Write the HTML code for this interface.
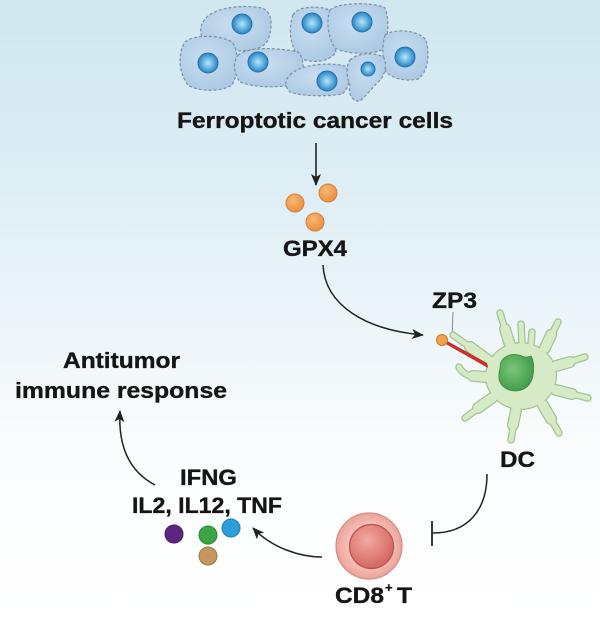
<!DOCTYPE html>
<html><head><meta charset="utf-8"><style>
html,body{margin:0;padding:0;background:#fff;}
svg{display:block;}
text{font-family:"Liberation Sans",Arial,sans-serif;font-weight:bold;fill:#151515;stroke:#151515;stroke-width:0.35;}
</style></head><body>
<svg width="600" height="617" viewBox="0 0 600 617" xmlns="http://www.w3.org/2000/svg">
<defs>
<linearGradient id="bg" x1="0" y1="0" x2="0" y2="1">
<stop offset="0" stop-color="#d0e7f0"/>
<stop offset="0.3" stop-color="#deeef5"/>
<stop offset="0.55" stop-color="#eef6fa"/>
<stop offset="0.72" stop-color="#fafcfd"/>
<stop offset="1" stop-color="#ffffff"/>
</linearGradient>
<radialGradient id="cellg" cx="0.45" cy="0.4" r="0.7">
<stop offset="0" stop-color="#c9def0"/>
<stop offset="1" stop-color="#a9c7e3"/>
</radialGradient>
<radialGradient id="nuc" cx="0.5" cy="0.5" r="0.5">
<stop offset="0" stop-color="#b8e4f6"/>
<stop offset="0.5" stop-color="#6cb8e4"/>
<stop offset="1" stop-color="#2a82c2"/>
</radialGradient>
<radialGradient id="org" cx="0.4" cy="0.35" r="0.65">
<stop offset="0" stop-color="#f7b872"/>
<stop offset="1" stop-color="#ec9040"/>
</radialGradient>
<radialGradient id="dcn" cx="0.4" cy="0.4" r="0.65">
<stop offset="0" stop-color="#7cc67c"/>
<stop offset="1" stop-color="#3f9a45"/>
</radialGradient>
<radialGradient id="tin" cx="0.4" cy="0.35" r="0.7">
<stop offset="0" stop-color="#f2aaa2"/>
<stop offset="1" stop-color="#d2625c"/>
</radialGradient>
<radialGradient id="tout" cx="0.5" cy="0.5" r="0.5">
<stop offset="0.6" stop-color="#f6c2ba"/>
<stop offset="1" stop-color="#eba39b"/>
</radialGradient>
<marker id="ah" viewBox="0 0 12 10" refX="11" refY="5" markerWidth="12" markerHeight="10" markerUnits="userSpaceOnUse" orient="auto">
<path d="M0,0 L12,5 L0,10 L3,5 Z" fill="#222"/>
</marker>
</defs>
<rect width="600" height="617" fill="url(#bg)"/>

<!-- cancer cells -->
<g fill="url(#cellg)" stroke="#7d8fa3" stroke-width="1.2" stroke-dasharray="3,2">
<path d="M203,22 C210,8 240,4 262,8 C274,12 272,30 268,40 C262,52 240,52 222,50 C205,48 196,34 203,22 Z"/>
<path d="M293,15 C298,5 325,5 332,12 C337,22 332,40 336,52 C330,62 312,64 300,58 C290,48 288,28 293,15 Z"/>
<path d="M330,10 C338,2 375,2 385,8 C390,20 388,42 382,50 C370,55 345,54 335,48 C328,38 326,20 330,10 Z"/>
<path d="M185,42 C195,34 220,35 232,42 C240,52 238,75 232,85 C222,92 198,92 188,85 C178,72 178,52 185,42 Z"/>
<path d="M238,55 C250,46 280,48 298,52 C306,60 304,78 296,84 C280,88 255,88 240,82 C233,72 233,62 238,55 Z"/>
<path d="M385,35 C395,28 418,30 426,40 C430,55 428,72 418,79 C405,82 392,78 386,72 C382,60 382,45 385,35 Z"/>
<path d="M290,75 C300,64 330,62 345,66 C352,74 350,88 342,94 C325,97 300,96 290,92 C284,86 285,80 290,75 Z"/>
<path d="M350,60 C358,52 378,52 384,58 C388,68 383,78 378,82 C372,88 366,96 360,101 C352,102 348,94 350,85 C346,76 346,66 350,60 Z"/>
</g>
<g fill="url(#nuc)" stroke="#2274b4" stroke-width="1">
<circle cx="242" cy="24" r="10"/>
<circle cx="208" cy="63" r="10"/>
<circle cx="258" cy="62" r="10"/>
<circle cx="312" cy="23" r="10"/>
<circle cx="362" cy="22" r="10"/>
<circle cx="405" cy="57" r="10"/>
<circle cx="327" cy="81" r="10"/>
<circle cx="368" cy="69" r="7"/>
</g>

<text x="177" y="128" font-size="22" textLength="276" lengthAdjust="spacingAndGlyphs">Ferroptotic cancer cells</text>

<!-- arrow down -->
<line x1="316" y1="143" x2="316" y2="185" stroke="#222" stroke-width="1.6" marker-end="url(#ah)"/>

<!-- GPX4 dots -->
<g fill="url(#org)" stroke="#d5803a" stroke-width="1">
<circle cx="295" cy="203" r="9"/>
<circle cx="328" cy="193" r="9"/>
<circle cx="315" cy="222" r="9"/>
</g>
<text x="283" y="256" font-size="22" textLength="64" lengthAdjust="spacingAndGlyphs">GPX4</text>

<!-- arrow GPX4 -> ZP3 -->
<path d="M323,265 C325,305 365,330 423,335" fill="none" stroke="#222" stroke-width="1.5" marker-end="url(#ah)"/>

<text x="432" y="308" font-size="22" textLength="45" lengthAdjust="spacingAndGlyphs">ZP3</text>
<line x1="453" y1="312" x2="452" y2="338" stroke="#8a8a8a" stroke-width="1"/>

<!-- DC cell -->
<g fill="none" stroke-linecap="round">
<g stroke="#a2c491">
<g stroke-width="7.5">
<path d="M510,345 L500,313"/>
<path d="M522,343 L521,324"/>
<path d="M531,344 L532,332"/>
<path d="M545,348 L558,322"/>
<path d="M556,366 L585,357"/>
<path d="M556,390 L588,398"/>
<path d="M543,405 L559,433"/>
<path d="M516,410 L511,440"/>
<path d="M492,398 L465,418"/>
<path d="M487,377 Q465,379 459,367"/>
<path d="M488,360 L453,335"/>
</g>
<g stroke-width="12">
<path d="M510,345 L505,329"/>
<path d="M545,348 L551,335"/>
<path d="M556,366 L570,362"/>
<path d="M556,390 L572,394"/>
<path d="M543,405 L551,419"/>
<path d="M516,410 L513,425"/>
<path d="M492,398 L478,408"/>
<path d="M487,377 L473,376"/>
<path d="M488,360 L470,347"/>
</g>
</g>
<ellipse cx="521" cy="376" rx="36" ry="34" fill="#a2c491" stroke="none"/>
<g stroke="#d7eac6">
<g stroke-width="5">
<path d="M510,345 L500,313"/>
<path d="M522,343 L521,324"/>
<path d="M531,344 L532,332"/>
<path d="M545,348 L558,322"/>
<path d="M556,366 L585,357"/>
<path d="M556,390 L588,398"/>
<path d="M543,405 L559,433"/>
<path d="M516,410 L511,440"/>
<path d="M492,398 L465,418"/>
<path d="M487,377 Q465,379 459,367"/>
<path d="M488,360 L453,335"/>
</g>
<g stroke-width="9.5">
<path d="M510,345 L505,329"/>
<path d="M545,348 L551,335"/>
<path d="M556,366 L570,362"/>
<path d="M556,390 L572,394"/>
<path d="M543,405 L551,419"/>
<path d="M516,410 L513,425"/>
<path d="M492,398 L478,408"/>
<path d="M487,377 L473,376"/>
<path d="M488,360 L470,347"/>
</g>
</g>
<ellipse cx="521" cy="376" rx="34.8" ry="32.8" fill="#d7eac6" stroke="none"/>
</g>
<path d="M500,368 C500,356 512,352 522,356 C526,358 528,357 531,356 C535,363 535,378 528,386 C520,394 504,392 500,382 C498,378 499,372 500,368 Z" fill="url(#dcn)" stroke="#3a8a40" stroke-width="0.8"/>

<!-- rod + ball -->
<polygon points="440,337 444,343 488,368 487,363" fill="#c9302c"/>
<circle cx="442" cy="340" r="5.5" fill="#f2a24a" stroke="#c87a2a" stroke-width="1"/>

<text x="500" y="467" font-size="22" textLength="35" lengthAdjust="spacingAndGlyphs">DC</text>

<!-- inhibition -->
<path d="M487,474 C487,510 468,533 433,533" fill="none" stroke="#222" stroke-width="1.5"/>
<line x1="432" y1="521" x2="432" y2="546" stroke="#222" stroke-width="1.8"/>

<!-- CD8 T -->
<circle cx="369" cy="546" r="33" fill="url(#tout)" stroke="#d98a84" stroke-width="1.2"/>
<circle cx="371.5" cy="546.5" r="22" fill="url(#tin)" stroke="#b85550" stroke-width="1.2"/>
<text x="335" y="603" font-size="22" textLength="49" lengthAdjust="spacingAndGlyphs">CD8</text>
<text x="385" y="592" font-size="13">+</text>
<text x="397" y="603" font-size="22" textLength="15" lengthAdjust="spacingAndGlyphs">T</text>

<!-- arrow CD8 -> cytokines -->
<path d="M322,557 C300,557 272,548 253,528" fill="none" stroke="#222" stroke-width="1.5" marker-end="url(#ah)"/>

<text x="180" y="485" font-size="22" textLength="57" lengthAdjust="spacingAndGlyphs">IFNG</text>
<text x="132" y="513" font-size="22" textLength="150" lengthAdjust="spacingAndGlyphs">IL2, IL12, TNF</text>

<circle cx="174" cy="534" r="9" fill="#5e2680" stroke="#4a1c66" stroke-width="1"/>
<circle cx="208" cy="556" r="9" fill="#c39561" stroke="#a07848" stroke-width="1"/>
<circle cx="208" cy="535" r="9" fill="#3da447" stroke="#2c8a36" stroke-width="1"/>
<circle cx="231" cy="528" r="9" fill="#2b9fd9" stroke="#1f82b8" stroke-width="1"/>

<!-- arrow cytokines -> antitumor -->
<path d="M155,485 C130,472 118,448 120,411" fill="none" stroke="#222" stroke-width="1.5" marker-end="url(#ah)"/>

<text x="63" y="368" font-size="22" textLength="117" lengthAdjust="spacingAndGlyphs">Antitumor</text>
<text x="15" y="398" font-size="22" textLength="212" lengthAdjust="spacingAndGlyphs">immune response</text>
</svg>
</body></html>
